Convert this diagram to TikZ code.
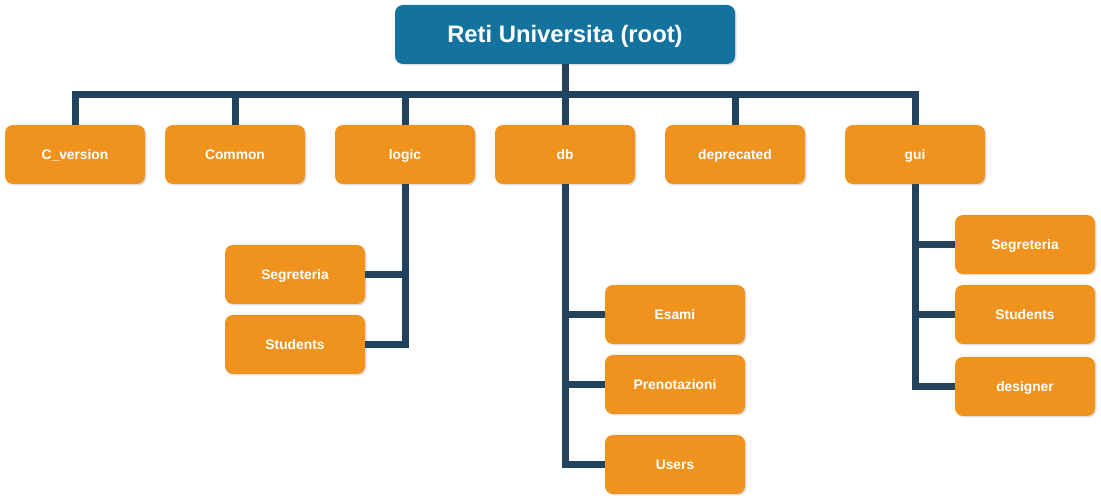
\documentclass[tikz,border=0pt]{standalone}
\usepackage{fontspec}
\setmainfont{Liberation Sans}
\usepackage{tikz}
\usetikzlibrary{calc, positioning, shadows}
\definecolor{rootblue}{HTML}{14739E}
\definecolor{leaforange}{HTML}{F0931E}
\definecolor{linkblue}{HTML}{22435E}

\begin{document}
\begin{tikzpicture}[x=1pt, y=-1pt,
	box/.style={fill=leaforange, rounded corners=8pt, minimum width=140pt, minimum height=59pt, inner sep=0pt, text height=10pt, text depth=0pt, text=white, font=\fontsize{13.8}{16}\selectfont\bfseries, drop shadow={opacity=0.25, shadow xshift=1.5pt, shadow yshift=-1.5pt}},
	rootbox/.style={box, fill=rootblue, minimum width=340pt, text height=17pt, font=\fontsize{23.8}{28}\selectfont\bfseries},
	link/.style={draw=linkblue, line width=7pt}]
	\useasboundingbox (0,0) rectangle (1101,502);
	
	\node [rootbox] (root) at (565,34.5) {Reti Universita (root)};
	
	\node [box] (cver) at (75,154.5) {C\_version};
	\node [box] (common) at (235,154.5) {Common};
	\node [box] (logic) at (405,154.5) {logic};
	\node [box] (db) at (565,154.5) {db};
	\node [box] (depr) at (735,154.5) {deprecated};
	\node [box] (gui) at (915,154.5) {gui};
	
	\node [box] (logicseg) at (295,274.5) {Segreteria};
	\node [box] (logicstu) at (295,344.5) {Students};
	
	\node [box] (esami) at (675,314.5) {Esami};
	\node [box] (preno) at (675,384.5) {Prenotazioni};
	\node [box] (users) at (675,464.5) {Users};
	
	\node [box] (guiseg) at (1025,244.5) {Segreteria};
	\node [box] (guistu) at (1025,314.5) {Students};
	\node [box] (design) at (1025,386.5) {designer};
	
	\coordinate (bus) at (565,95);
	\draw [link] (root.south) -- (bus);
	\draw [link] (cver.north) |- (bus) -| (gui.north);
	\foreach \c in {common, logic, db, depr}
		\draw [link] (\c.north) -- (\c.north |- bus);
	
	\draw [link] (logic.south) |- (logicstu.east);
	\draw [link] (logicseg.east) -- (logicseg.east -| logic.south);
	
	\draw [link] (db.south) |- (users.west);
	\foreach \c in {esami, preno}
		\draw [link] (\c.west) -- (\c.west -| db.south);
	
	\draw [link] (gui.south) |- (design.west);
	\foreach \c in {guiseg, guistu}
		\draw [link] (\c.west) -- (\c.west -| gui.south);
\end{tikzpicture}
\end{document}
